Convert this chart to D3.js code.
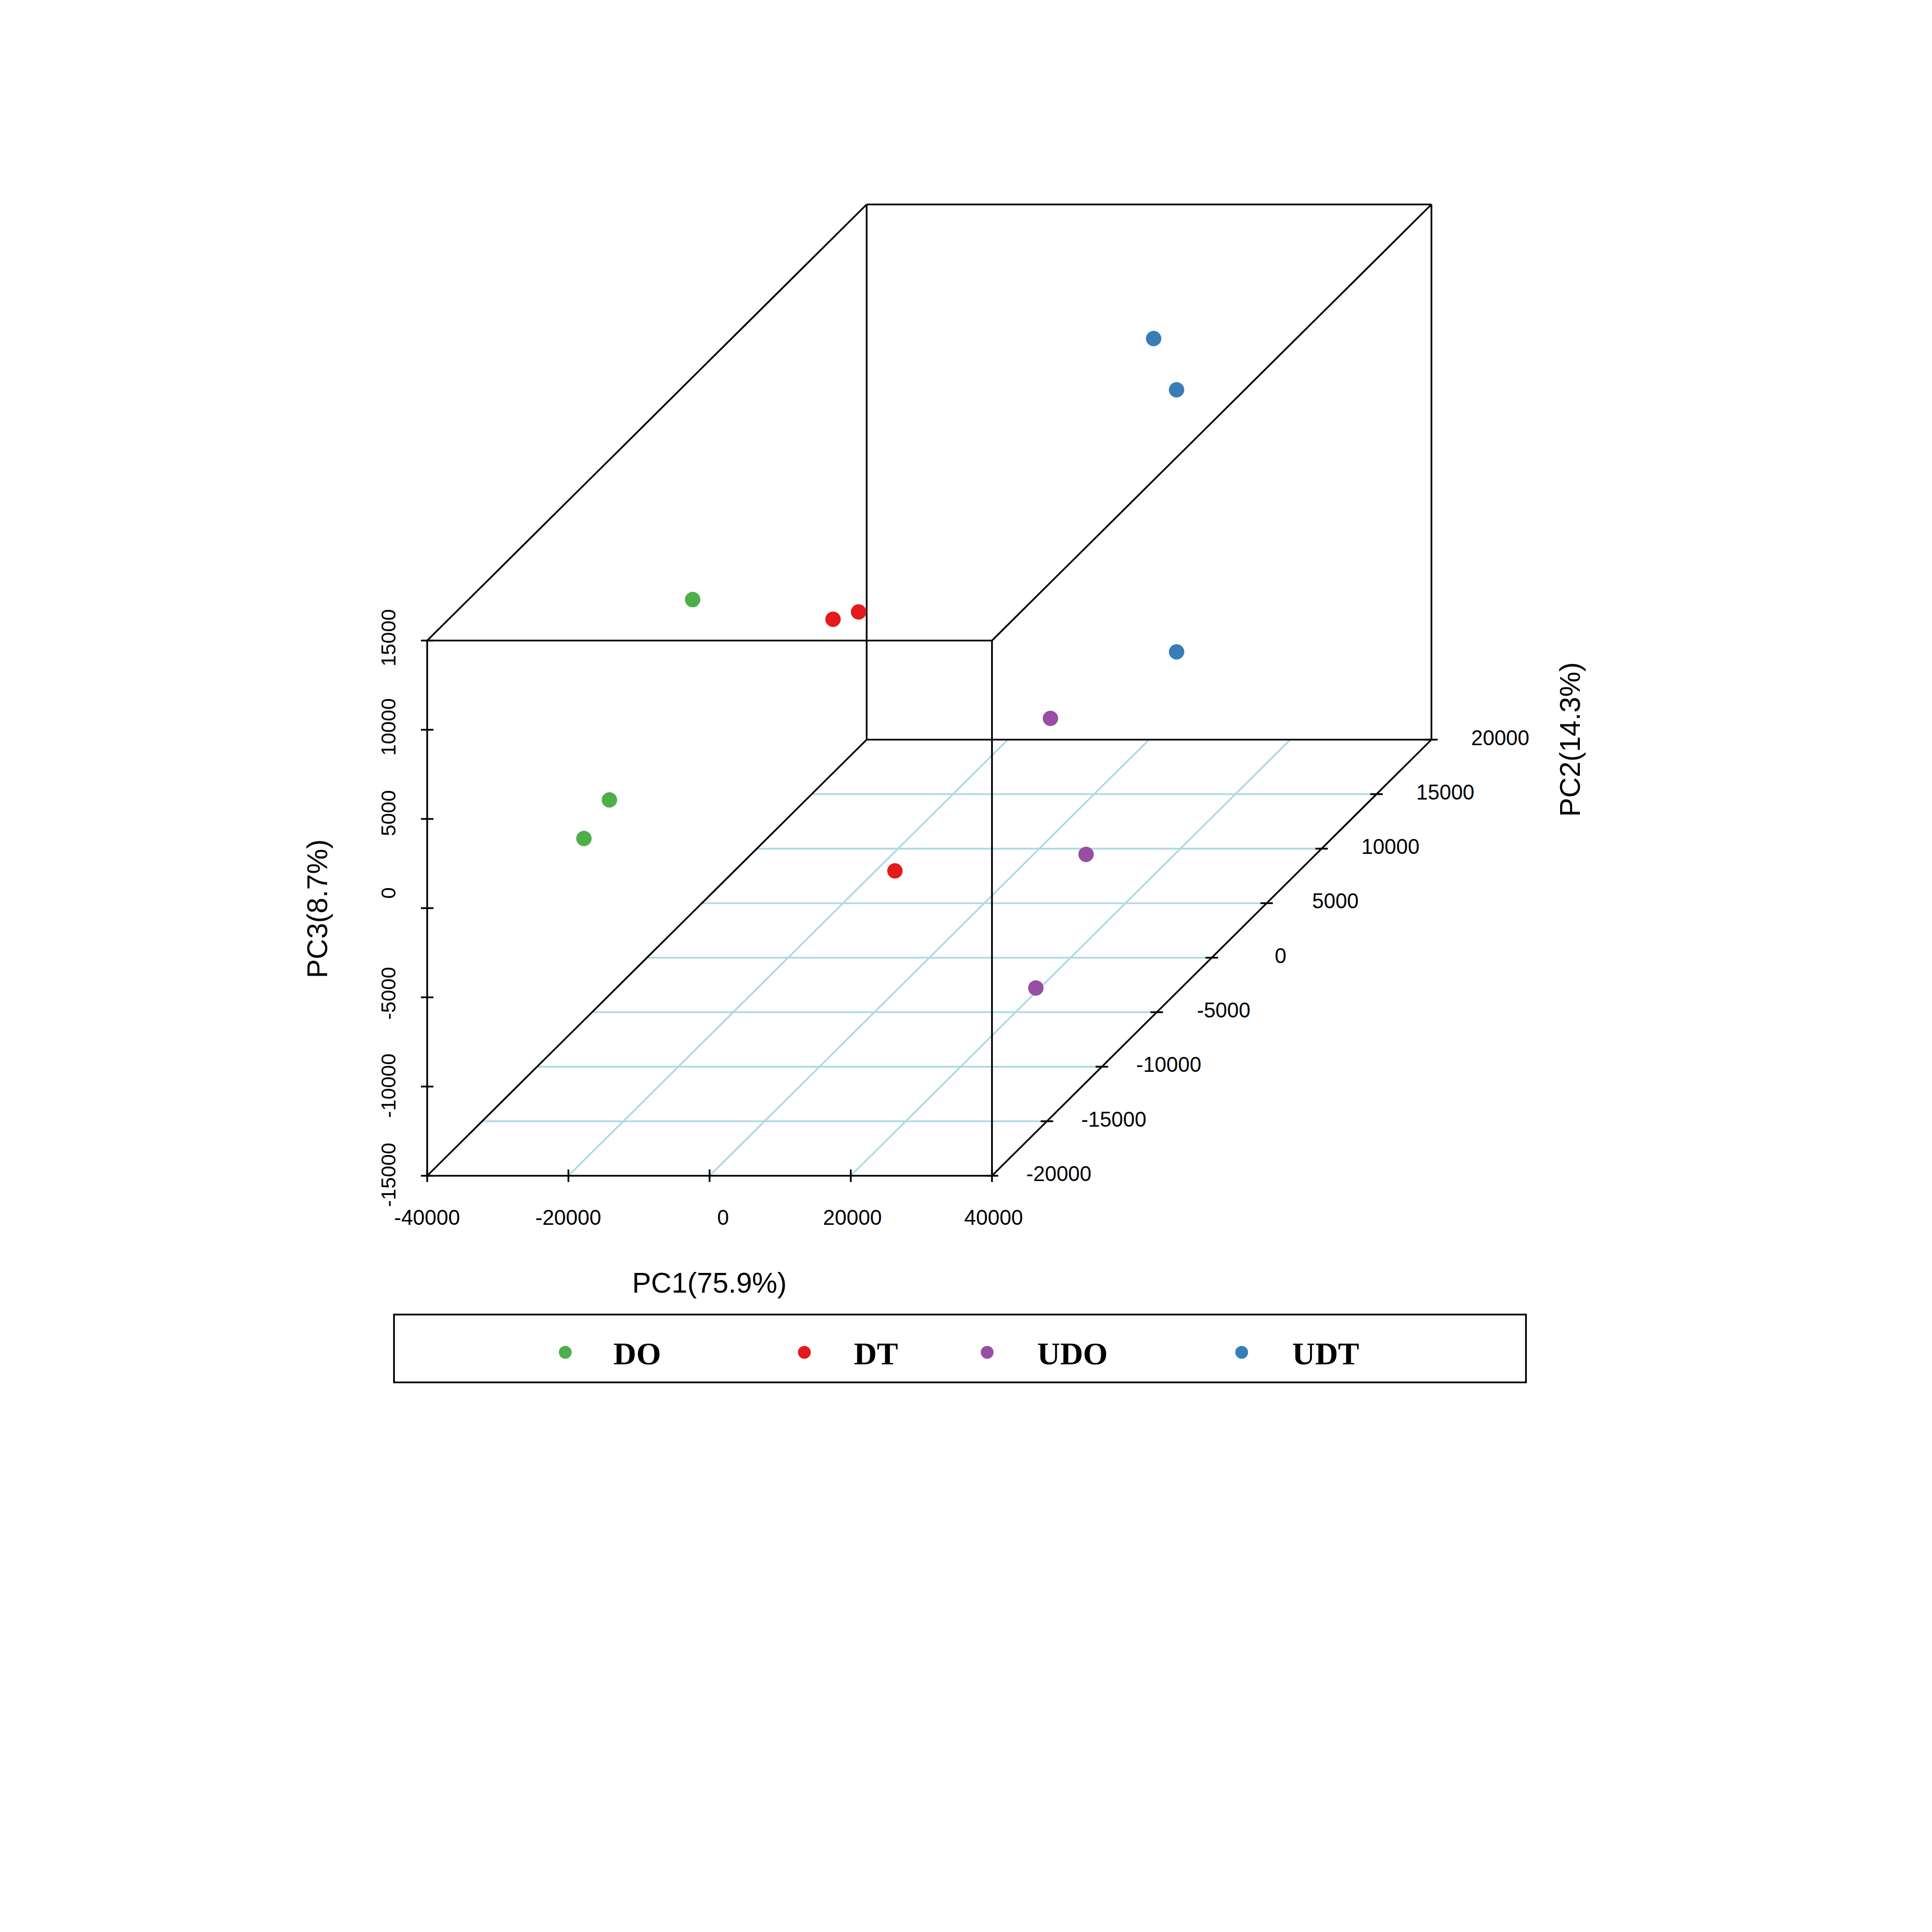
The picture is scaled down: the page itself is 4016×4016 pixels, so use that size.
<!DOCTYPE html>
<html>
<head>
<meta charset="utf-8">
<script src="https://cdn.jsdelivr.net/npm/d3@7"></script>
<style>
  html, body { margin: 0; padding: 0; background: #fff; }
  svg { display: block; }
  text { font-family: "Liberation Sans", Arial, sans-serif; fill: #000; }
</style>
</head>
<body>
<svg id="chart" width="4016" height="4016"></svg>
<script>
// PCA scores per sample
const sampleGroup = ["DO", "DO", "DO", "DT", "DT", "DT", "UDO", "UDO", "UDO", "UDT", "UDT", "UDT"];
const pc1Scores = [-25745, -29751, -30249, -22978, -22470, -204, 23380, 34654, 36872, 6872, 13233, 19462];
const pc2Scores = [-5000, -10000, -12000, 6000, 8000, -3000, -4000, -8000, -14000, 16000, 14000, 10000];
const pc3Scores = [8129, -45, -983, 306, -507, -8299, 859, -4317, -8140, 9929, 8277, -3966];

// Legend entries and group colours
const groupNames = ["DO", "DT", "UDO", "UDT"];
const groupColors = ["#4DAF4A", "#E41A1C", "#984EA3", "#377EB8"];

// Axis ticks
const pc1Ticks = [-40000, -20000, 0, 20000, 40000];
const pc2Ticks = [-20000, -15000, -10000, -5000, 0, 5000, 10000, 15000, 20000];
const pc3Ticks = [-15000, -10000, -5000, 0, 5000, 10000, 15000];

const pc1Title = "PC1(75.9%)";
const pc2Title = "PC2(14.3%)";
const pc3Title = "PC3(8.7%)";

// Oblique box projection: PC1 runs right, PC3 runs up, PC2 recedes up and to the right
const xScale = d3.scaleLinear().domain([-40000, 40000]).range([888, 2062]);
const zScale = d3.scaleLinear().domain([-15000, 15000]).range([2444, 1331.5]);
const depthX = d3.scaleLinear().domain([-20000, 20000]).range([0, 913.5]);
const depthY = d3.scaleLinear().domain([-20000, 20000]).range([0, 906.5]);
const colorOf = d3.scaleOrdinal().domain(groupNames).range(groupColors);

const px = (a, b) => xScale(a) + depthX(b);
const py = (b, c) => zScale(c) - depthY(b);
const xMin = -40000, xMax = 40000, yMin = -20000, yMax = 20000, zMin = -15000, zMax = 15000;
const seg = (a1, b1, c1, a2, b2, c2) => ({ x1: px(a1, b1), y1: py(b1, c1), x2: px(a2, b2), y2: py(b2, c2) });

const svg = d3.select("#chart");
const LINE = 3.6, TICK = 13;

function drawSegments(parent, data, color, width) {
  parent.selectAll("line").data(data).join("line")
    .attr("x1", d => d.x1).attr("y1", d => d.y1)
    .attr("x2", d => d.x2).attr("y2", d => d.y2)
    .attr("stroke", color).attr("stroke-width", width);
}

// Floor grid
const gridLines = [
  ...pc2Ticks.slice(1, -1).map(b => seg(xMin, b, zMin, xMax, b, zMin)),
  ...pc1Ticks.slice(1, -1).map(a => seg(a, yMin, zMin, a, yMax, zMin))
];
drawSegments(svg.append("g"), gridLines, "#ADD8E6", LINE);

// Box edges
const boxEdges = [
  seg(xMin, yMin, zMin, xMax, yMin, zMin), seg(xMin, yMin, zMax, xMax, yMin, zMax),
  seg(xMin, yMin, zMin, xMin, yMin, zMax), seg(xMax, yMin, zMin, xMax, yMin, zMax),
  seg(xMin, yMax, zMin, xMax, yMax, zMin), seg(xMin, yMax, zMax, xMax, yMax, zMax),
  seg(xMin, yMax, zMin, xMin, yMax, zMax), seg(xMax, yMax, zMin, xMax, yMax, zMax),
  seg(xMin, yMin, zMin, xMin, yMax, zMin), seg(xMax, yMin, zMin, xMax, yMax, zMin),
  seg(xMin, yMin, zMax, xMin, yMax, zMax), seg(xMax, yMin, zMax, xMax, yMax, zMax)
];
drawSegments(svg.append("g"), boxEdges, "#000", LINE);

// Tick marks on the three axes
const tickMarks = [
  ...pc1Ticks.map(a => ({ x1: px(a, yMin), y1: py(yMin, zMin) - TICK, x2: px(a, yMin), y2: py(yMin, zMin) + TICK })),
  ...pc3Ticks.map(c => ({ x1: px(xMin, yMin) - TICK, y1: py(yMin, c), x2: px(xMin, yMin) + TICK, y2: py(yMin, c) })),
  ...pc2Ticks.map(b => ({ x1: px(xMax, b) - TICK, y1: py(b, zMin), x2: px(xMax, b) + TICK, y2: py(b, zMin) }))
];
drawSegments(svg.append("g"), tickMarks, "#000", LINE);

// Tick labels
const pc1Labels = svg.append("g").selectAll("text").data(pc1Ticks).join("text")
  .attr("font-size", 44).attr("text-anchor", "middle").attr("y", 2546)
  .text(d => d);
pc1Labels.attr("x", function (d) { return px(d, yMin) + 34 - 0.25 * this.getComputedTextLength(); });

const pc2Labels = svg.append("g").selectAll("text").data(pc2Ticks).join("text")
  .attr("font-size", 43.5).attr("text-anchor", "middle")
  .attr("x", d => px(xMax, d) + (d < 0 ? 139 : 143))
  .attr("y", d => py(d, zMin) + 11)
  .text(d => d);

const pc3Labels = svg.append("g").selectAll("text").data(pc3Ticks).join("text")
  .attr("font-size", 43).attr("text-anchor", "middle")
  .text(d => d);
pc3Labels.attr("transform", function (d) {
  const cy = py(yMin, d) - 38 + 0.27 * this.getComputedTextLength();
  return `translate(822,${cy}) rotate(-90)`;
});

// Axis titles
const TITLE_FONT = 59;
svg.append("text").attr("font-size", TITLE_FONT).attr("x", 1314).attr("y", 2687).text(pc1Title);
svg.append("text").attr("font-size", TITLE_FONT).attr("text-anchor", "middle")
  .attr("transform", "translate(3284,1537) rotate(-90)").text(pc2Title);
svg.append("text").attr("font-size", TITLE_FONT).attr("text-anchor", "middle")
  .attr("transform", "translate(680,1889) rotate(-90)").text(pc3Title);

// Sample points
svg.append("g").selectAll("circle").data(sampleGroup).join("circle")
  .attr("cx", (g, i) => px(pc1Scores[i], pc2Scores[i]))
  .attr("cy", (g, i) => py(pc2Scores[i], pc3Scores[i]))
  .attr("r", 16)
  .attr("fill", g => colorOf(g));

// Legend
const legendDotX = d3.scaleOrdinal().domain(groupNames).range([1175, 1672, 2052, 2581]);
const legendTextX = d3.scaleOrdinal().domain(groupNames).range([1275, 1775, 2156, 2686]);
const legend = svg.append("g");
legend.append("rect").attr("x", 819).attr("y", 2732.5).attr("width", 2353).attr("height", 141)
  .attr("fill", "none").attr("stroke", "#000").attr("stroke-width", LINE);
legend.selectAll("circle").data(groupNames).join("circle")
  .attr("cx", d => legendDotX(d)).attr("cy", 2811).attr("r", 13.3)
  .attr("fill", d => colorOf(d));
legend.selectAll("text").data(groupNames).join("text")
  .attr("x", d => legendTextX(d)).attr("y", 2836)
  .attr("font-size", 66).attr("font-weight", "bold")
  .style("font-family", '"Liberation Serif", "Times New Roman", serif')
  .text(d => d);
</script>
</body>
</html>
